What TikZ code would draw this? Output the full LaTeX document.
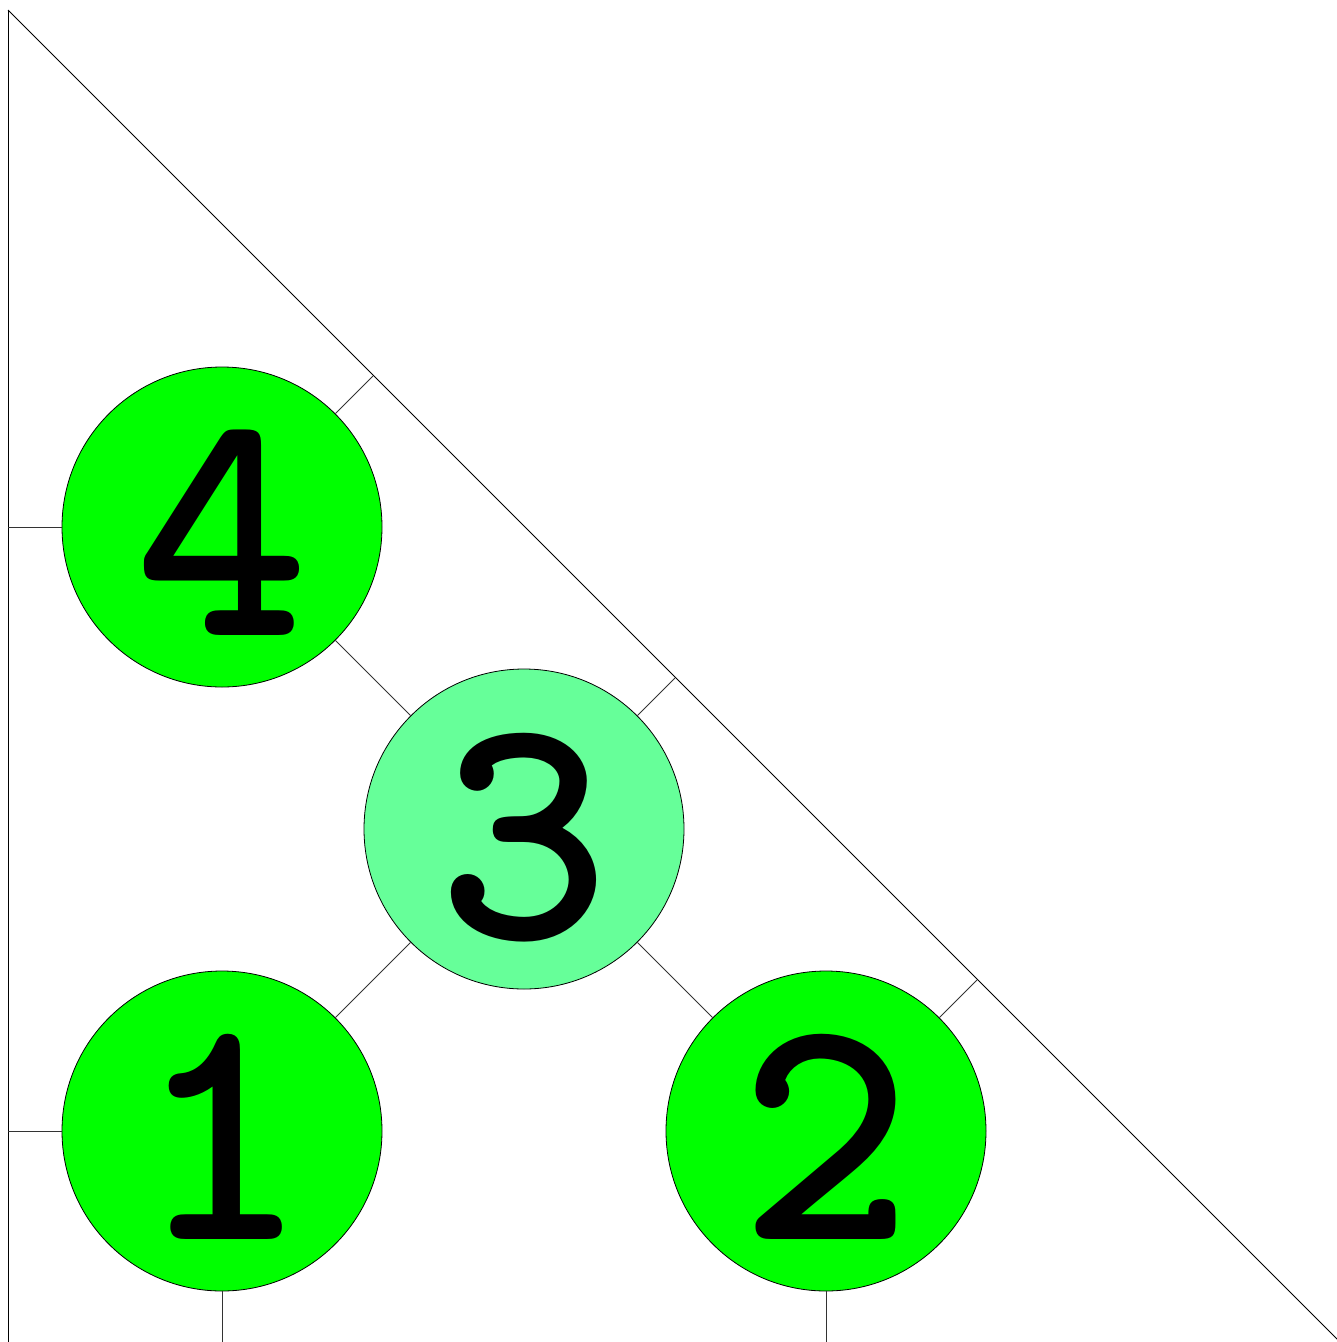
\documentclass[tikz,border=0pt]{standalone}
\usepackage{fontspec}
\definecolor{leafgreen}{RGB}{0,255,0}
\definecolor{midgreen}{RGB}{102,255,153}
\newcommand{\lowdigit}[2]{\raisebox{-#1}[\height][0pt]{#2}}
\begin{document}
\begin{tikzpicture}[x=1pt,y=-1pt,
  wall/.style={line width=0.9pt, black},
  edge/.style={line width=0.9pt, black!80},
  ball/.style={circle, draw=black, line width=0.8pt, minimum size=320pt, inner sep=0pt,
    font=\ttfamily\bfseries\fontsize{330}{330}\selectfont}]
\useasboundingbox (0,0) rectangle (1337,1342);
% walls
\coordinate (top) at (8,10);
\coordinate (bl) at (8,1348);
\coordinate (br) at (1346,1348);
% nodes
\node[ball, fill=leafgreen] (n4) at (222,527) {\lowdigit{6pt}{4}};
\node[ball, fill=midgreen] (n3) at (524,829) {\lowdigit{7pt}{3}};
\node[ball, fill=leafgreen] (n1) at (222,1131) {\lowdigit{6pt}{1}};
\node[ball, fill=leafgreen] (n2) at (826,1131) {\lowdigit{6pt}{2}};
% wall anchor points
\coordinate (w4l) at (8,527);
\coordinate (w4d) at (373,376);
\coordinate (w3d) at (675,678);
\coordinate (w2d) at (977,980);
\coordinate (w1l) at (8,1131);
\coordinate (w1b) at (222,1348);
\coordinate (w2b) at (826,1348);
\draw[wall] (top) -- (bl);
\draw[wall] (top) -- (br);
\draw[edge] (n4) -- (n3);
\draw[edge] (n3) -- (n1);
\draw[edge] (n3) -- (n2);
\draw[edge] (n4) -- (w4l);
\draw[edge] (n4) -- (w4d);
\draw[edge] (n3) -- (w3d);
\draw[edge] (n2) -- (w2d);
\draw[edge] (n1) -- (w1l);
\draw[edge] (n1) -- (w1b);
\draw[edge] (n2) -- (w2b);
\end{tikzpicture}
\end{document}
